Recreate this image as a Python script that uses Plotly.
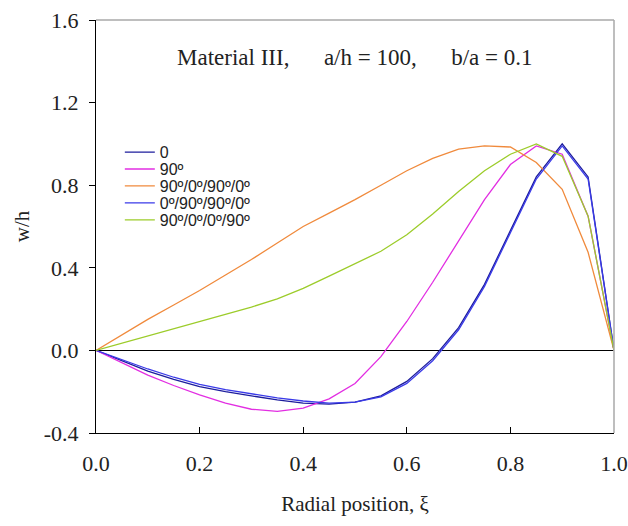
import plotly.graph_objects as go

xi = [0.0, 0.05, 0.1, 0.15, 0.2, 0.25, 0.3, 0.35, 0.4, 0.45, 0.5,
      0.55, 0.6, 0.65, 0.7, 0.75, 0.8, 0.85, 0.9, 0.95, 1.0]

w_0 = [0.0, -0.05, -0.10, -0.14, -0.175, -0.20, -0.22, -0.24, -0.255, -0.26, -0.25,
       -0.22, -0.15, -0.04, 0.11, 0.32, 0.58, 0.84, 1.0, 0.84, 0.0]
w_90 = [0.0, -0.06, -0.12, -0.17, -0.215, -0.255, -0.285, -0.295, -0.28, -0.235, -0.16,
        -0.03, 0.14, 0.33, 0.53, 0.73, 0.90, 0.99, 0.95, 0.65, 0.0]
w_90_0_90_0 = [0.0, 0.075, 0.15, 0.22, 0.29, 0.365, 0.44, 0.52, 0.60, 0.665, 0.73,
               0.80, 0.87, 0.93, 0.975, 0.99, 0.985, 0.91, 0.78, 0.475, 0.0]
w_0_90_90_0 = [0.0, -0.045, -0.09, -0.13, -0.165, -0.19, -0.21, -0.23, -0.245, -0.255, -0.25,
               -0.225, -0.16, -0.05, 0.10, 0.31, 0.57, 0.83, 0.99, 0.83, 0.0]
w_90_0_0_90 = [0.0, 0.035, 0.07, 0.105, 0.14, 0.175, 0.21, 0.25, 0.30, 0.36, 0.42,
               0.48, 0.56, 0.66, 0.77, 0.87, 0.95, 1.0, 0.94, 0.65, 0.0]

series_names = ["0", "90º", "90º/0º/90º/0º", "0º/90º/90º/0º", "90º/0º/0º/90º"]
series_values = [w_0, w_90, w_90_0_90_0, w_0_90_90_0, w_90_0_0_90]
series_colors = ["#1c1c9c", "#e22ee2", "#f08a3c", "#3a3ae8", "#9ccc2a"]

xticks = [0.0, 0.2, 0.4, 0.6, 0.8, 1.0]
xticklabels = ["0.0", "0.2", "0.4", "0.6", "0.8", "1.0"]
yticks = [-0.4, 0.0, 0.4, 0.8, 1.2, 1.6]
yticklabels = ["-0.4", "0.0", "0.4", "0.8", "1.2", "1.6"]

legend_ids = ["legend", "legend2", "legend3", "legend4", "legend5"]
legend_y = [0.680, 0.639, 0.598, 0.557, 0.516]

fig = go.Figure()
for name, ys, col, lid in zip(series_names, series_values, series_colors, legend_ids):
    fig.add_trace(go.Scatter(x=xi, y=ys, mode="lines", name=name, legend=lid,
                             line=dict(color=col, width=1.3)))

serif = "Liberation Serif"
legend_common = dict(x=0.046, xanchor="left", yanchor="middle",
                     font=dict(family="Liberation Sans", size=16, color="#222"),
                     bgcolor="rgba(0,0,0,0)", itemwidth=30)
layout_legends = {lid: dict(y=ly, **legend_common) for lid, ly in zip(legend_ids, legend_y)}

fig.update_layout(
    width=628, height=526,
    margin=dict(l=96, r=14, t=20, b=93, autoexpand=False),
    paper_bgcolor="white", plot_bgcolor="white",
    showlegend=True,
    xaxis=dict(range=[0, 1.0], tickvals=xticks, ticktext=xticklabels,
               automargin=False,
               showgrid=False, zeroline=False, showline=True, linecolor="black",
               linewidth=1, ticks="inside", ticklen=6, tickcolor="black",
               tickfont=dict(family=serif, size=22, color="#222"),
               ticklabelstandoff=11,
               title=dict(text="Radial position, ξ", font=dict(family=serif, size=21, color="#222"),
                          standoff=20)),
    yaxis=dict(range=[-0.4, 1.6], tickvals=yticks, ticktext=yticklabels,
               automargin=False,
               showgrid=False, zeroline=True, zerolinecolor="black", zerolinewidth=1,
               showline=True, linecolor="black", linewidth=1,
               ticks="outside", ticklen=6, tickcolor="black",
               tickfont=dict(family=serif, size=22, color="#222"),
               ticklabelstandoff=6,
               title=dict(text="w/h", font=dict(family=serif, size=21, color="#222"),
                          standoff=8)),
    shapes=[
        dict(type="line", xref="paper", yref="paper", x0=0, x1=1, y0=1, y1=1,
             line=dict(color="#a8a8a8", width=1.5)),
        dict(type="line", xref="paper", yref="paper", x0=1, x1=1, y0=0, y1=1,
             line=dict(color="#a8a8a8", width=1.5)),
    ],
    annotations=[
        dict(text="Material III,&nbsp;&nbsp;&nbsp;&nbsp;&nbsp;&nbsp;a/h = 100,&nbsp;&nbsp;&nbsp;&nbsp;&nbsp;&nbsp;b/a = 0.1",
             xref="paper", yref="paper", x=0.5, y=0.908, xanchor="center", yanchor="middle",
             showarrow=False,
             font=dict(family=serif, size=23, color="#222")),
    ],
    **layout_legends,
)

fig.write_html("out.html")
